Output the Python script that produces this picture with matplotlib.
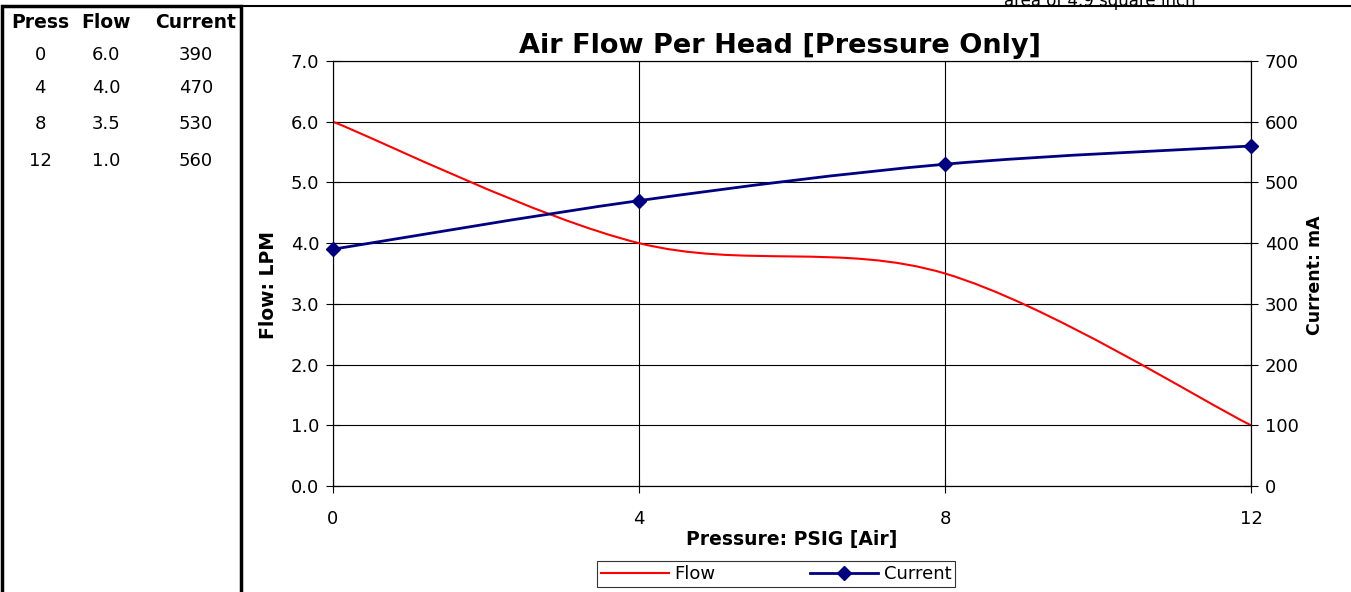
import numpy as np
import matplotlib
matplotlib.use("Agg")
import matplotlib.pyplot as plt
from matplotlib.path import Path
from matplotlib.patches import PathPatch, Rectangle
from matplotlib.lines import Line2D

# -------------------------------------------
# Data
# -------------------------------------------
pressure = [0, 4, 8, 12]
flow = [6.0, 4.0, 3.5, 1.0]
current = [390, 470, 530, 560]

flow_ticks = [0.0, 1.0, 2.0, 3.0, 4.0, 5.0, 6.0, 7.0]
current_ticks = [0, 100, 200, 300, 400, 500, 600, 700]

table_header = ["Press", "Flow", "Current"]
table_rows = [["0", "6.0", "390"],
              ["4", "4.0", "470"],
              ["8", "3.5", "530"],
              ["12", "1.0", "560"]]

W, H = 1351, 592
plt.rcParams['font.family'] = ['DejaVu Sans']


def smooth_path(xs, ys):
    """Excel-like smoothed line: cubic Bezier through the points."""
    pts = np.column_stack([xs, ys]).astype(float)
    n = len(pts)
    verts = [pts[0]]
    codes = [Path.MOVETO]
    for i in range(n - 1):
        p_prev = pts[max(i - 1, 0)]
        p0 = pts[i]
        p1 = pts[i + 1]
        p_next = pts[min(i + 2, n - 1)]
        c1 = p0 + (p1 - p_prev) / 6.0
        c2 = p1 - (p_next - p0) / 6.0
        verts += [c1, c2, p1]
        codes += [Path.CURVE4] * 3
    return Path(verts, codes)


fig = plt.figure(figsize=(W / 100, H / 100), dpi=100)

# plot area in pixel coordinates
x0, x1 = 333, 1251
y0, y1 = 61, 486
ax = fig.add_axes([x0 / W, 1 - y1 / H, (x1 - x0) / W, (y1 - y0) / H])
ax2 = ax.twinx()

ax.set_xlim(0, 12)
ax.set_ylim(0, 7)
ax2.set_ylim(0, 700)
ax.set_xticks(pressure)
ax.set_yticks(flow_ticks)
ax.set_yticklabels([f"{v:.1f}" for v in flow_ticks])
ax2.set_yticks(current_ticks)

ax.grid(True, color='black', lw=0.8)
ax.set_axisbelow(True)
for a in (ax, ax2):
    for s in a.spines.values():
        s.set_linewidth(0.8)
        s.set_color('black')
    a.tick_params(direction='inout', length=10, width=0.8, labelsize=13)
ax.spines['left'].set_color('#808080')
ax.tick_params(axis='x', pad=12)
ax.tick_params(axis='y', pad=5)
ax2.tick_params(axis='y', pad=5)

# Flow (smoothed, no markers)
ax.add_patch(PathPatch(smooth_path(pressure, flow), fill=False,
                       edgecolor='#FF0000', lw=1.5, zorder=3))
# Current (smoothed, diamond markers)
ax2.add_patch(PathPatch(smooth_path(pressure, current), fill=False,
                        edgecolor='#000080', lw=2, zorder=3))
ax2.plot(pressure, current, ls='none', marker='D', ms=7,
         color='#000080', zorder=4, clip_on=False)

ax.set_xlabel("Pressure: PSIG [Air]", fontsize=13.5, fontweight='bold')
ax.xaxis.set_label_coords(0.5, -(540 - y1) / (y1 - y0), transform=ax.transAxes)
ax.set_ylabel("Flow: LPM", fontsize=13.5, fontweight='bold')
ax.yaxis.set_label_coords(-(x0 - 268) / (x1 - x0), (y1 - 285) / (y1 - y0))
ax2.set_ylabel("Current: mA", fontsize=12.5, fontweight='bold')
ax2.yaxis.set_label_coords(1 + (1315 - x1) / (x1 - x0), (y1 - 275) / (y1 - y0))
ax.xaxis.label.set_va('center')
ax.yaxis.label.set_va('center')
ax2.yaxis.label.set_va('center')

fig.text(780 / W, 1 - 46 / H, "Air Flow Per Head [Pressure Only]",
         fontsize=19.5, fontweight='bold', ha='center', va='center')

handles = [Line2D([], [], color='#FF0000', lw=1.5),
           Line2D([], [], color='#000080', lw=2, marker='D', ms=7)]
leg = fig.legend(handles, ["Flow", "Current"], ncol=2,
                 loc='center', bbox_to_anchor=(776 / W, 1 - 574 / H),
                 fontsize=13, frameon=True, fancybox=False,
                 handlelength=3.8, handletextpad=0.3, columnspacing=5.2,
                 borderpad=0.2, borderaxespad=0)
leg.get_frame().set_edgecolor('black')
leg.get_frame().set_linewidth(0.8)

# left data panel
fig.patches.append(Rectangle((2 / W, -0.1), 239 / W, 1.1 - 6 / H,
                             transform=fig.transFigure, fill=False,
                             edgecolor='black', lw=2.5))
fig.add_artist(Line2D([241 / W, 1], [1 - 6 / H, 1 - 6 / H],
                      transform=fig.transFigure, color='black', lw=1.5))
fig.text(1100 / W, 1 - 1 / H, "area of 4.9 square inch", fontsize=12,
         ha='center', va='center')

col_x = [40, 106, 196]
row_y = [55, 88, 124, 161]
for cx, t in zip(col_x, table_header):
    fig.text(cx / W, 1 - 22 / H, t, fontsize=13.5, fontweight='bold',
             ha='center', va='center')
for ry, row in zip(row_y, table_rows):
    for cx, t in zip(col_x, row):
        fig.text(cx / W, 1 - ry / H, t, fontsize=13, ha='center', va='center')

fig.savefig("out.png", dpi=100)
